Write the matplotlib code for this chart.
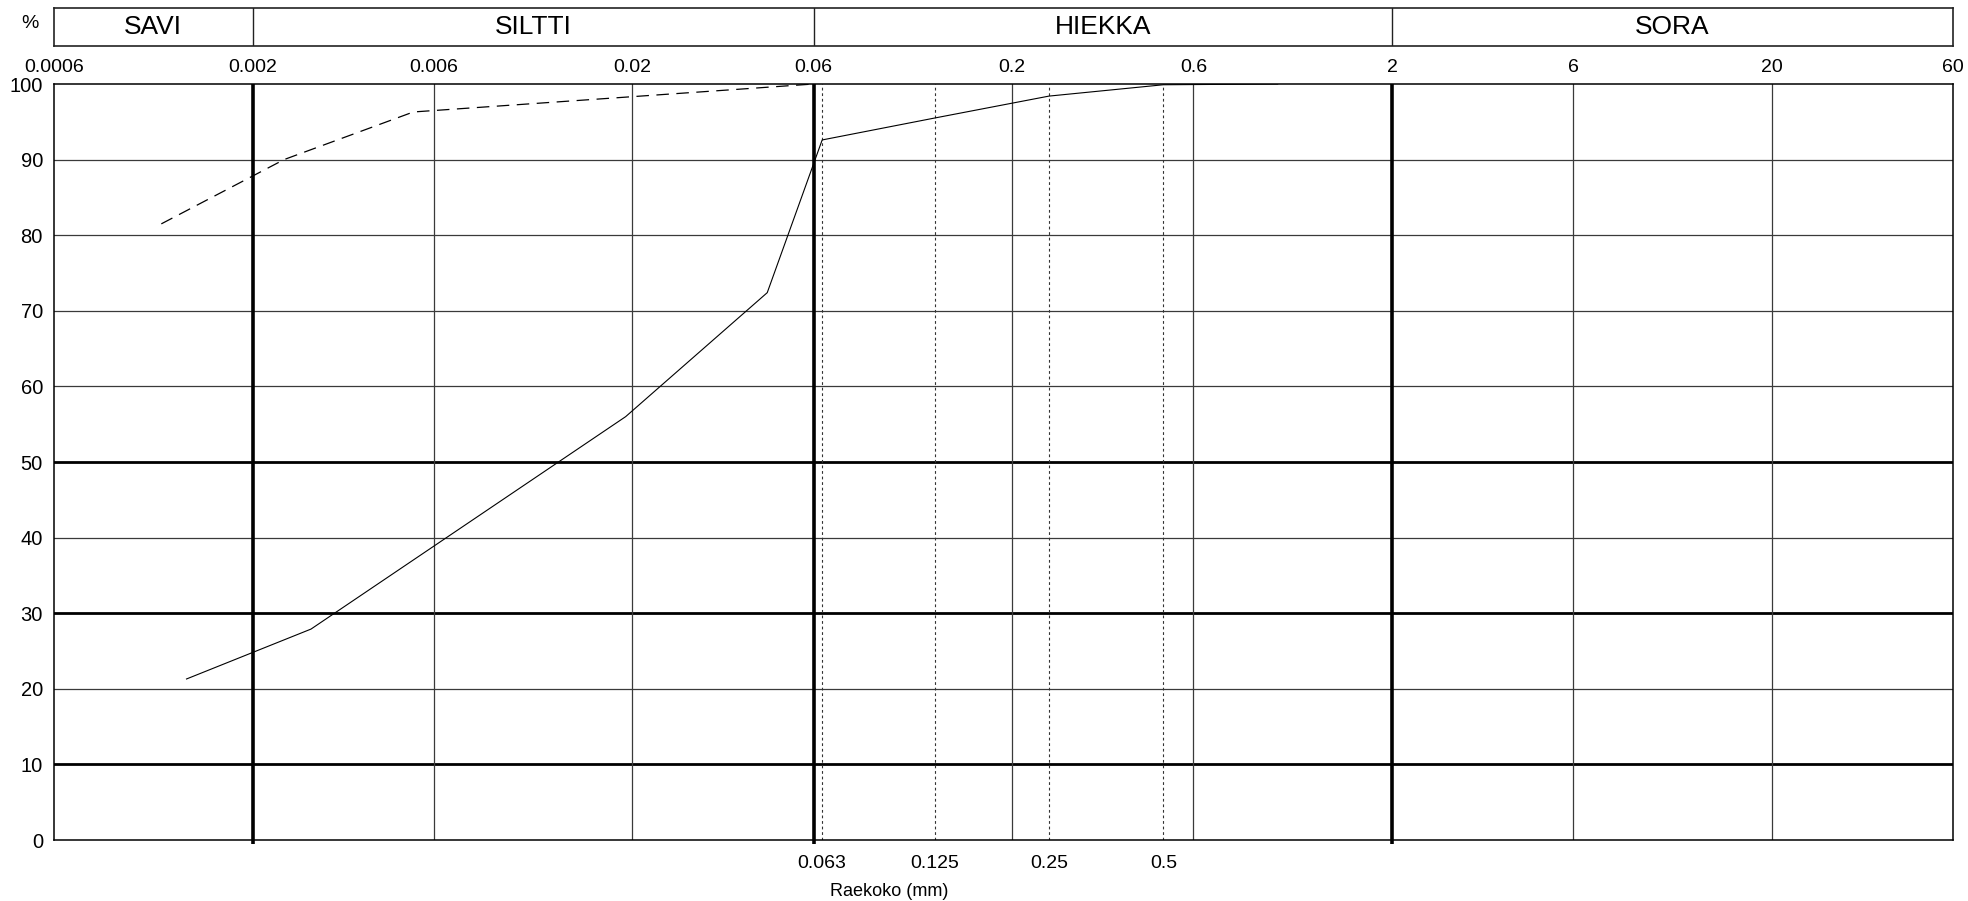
import matplotlib
matplotlib.use("Agg")
import matplotlib.pyplot as plt

plt.rcParams['font.family'] = ['Liberation Sans', 'DejaVu Sans']

# grain size axis (mm)
top_ticks = [0.0006, 0.002, 0.006, 0.02, 0.06, 0.2, 0.6, 2, 6, 20, 60]
top_labels = ["0.0006", "0.002", "0.006", "0.02", "0.06", "0.2", "0.6", "2", "6", "20", "60"]
sieve_ticks = [0.063, 0.125, 0.25, 0.5]
sieve_labels = ["0.063", "0.125", "0.25", "0.5"]
bold_x = [0.002, 0.06, 2]
thin_x = [0.006, 0.02, 0.2, 0.6, 6, 20]
y_ticks = list(range(0, 101, 10))
bold_y = [10, 30, 50]

# soil classes for the header row
classes = ["SAVI", "SILTTI", "HIEKKA", "SORA"]
class_edges = [0.0006, 0.002, 0.06, 2, 60]

# measured curves (grain size mm, passing %)
solid_x = [0.00134, 0.00285, 0.0192, 0.0453, 0.0632, 0.125, 0.25, 0.5, 1.0]
solid_y = [21.3, 27.9, 56.0, 72.4, 92.6, 95.5, 98.4, 99.9, 100]
dashed_x = [0.00115, 0.00242, 0.0053, 0.06]
dashed_y = [81.5, 90.0, 96.3, 100]

W, H = 1968, 901
fig = plt.figure(figsize=(W / 100, H / 100), dpi=100)
left, right, top, bottom = 54, 1953, 84, 840
ax = fig.add_axes([left / W, 1 - bottom / H, (right - left) / W, (bottom - top) / H])
hdr = fig.add_axes([left / W, 1 - 46 / H, (right - left) / W, 38 / H])

ax.set_xscale('log')
ax.set_xlim(top_ticks[0], top_ticks[-1])
ax.set_ylim(0, 100)

# grid
for y in y_ticks[1:-1]:
    if y in bold_y:
        ax.axhline(y, color='black', lw=2.0, zorder=1)
    else:
        ax.axhline(y, color='#3a3a3a', lw=0.9, zorder=1)
for x in thin_x:
    ax.axvline(x, color='#3a3a3a', lw=0.9, zorder=1)
for x in sieve_ticks:
    ax.axvline(x, color='#333333', lw=0.8, ls=(0, (2.5, 2.5)), zorder=1)
for x in bold_x:
    ax.plot([x, x], [-0.5, 100], color='black', lw=2.6, clip_on=False,
            solid_capstyle='butt', zorder=2)

ax.plot(solid_x, solid_y, color='black', lw=0.8, zorder=3)
ax.plot(dashed_x, dashed_y, color='black', lw=0.9, ls=(0, (10, 6)), zorder=3)

for s in ax.spines.values():
    s.set_linewidth(1.1)
    s.set_color('black')

ax.xaxis.tick_top()
ax.set_xticks(top_ticks)
ax.set_xticklabels(top_labels)
ax.xaxis.set_minor_locator(matplotlib.ticker.NullLocator())
ax.tick_params(axis='x', length=0, pad=6, labelsize=14)
ax.set_yticks(y_ticks)
ax.tick_params(axis='y', length=0, pad=8, labelsize=14.5)

sec = ax.secondary_xaxis('bottom')
sec.set_xticks(sieve_ticks)
sec.set_xticklabels(sieve_labels)
sec.xaxis.set_minor_locator(matplotlib.ticker.NullLocator())
sec.tick_params(length=0, pad=11, labelsize=14)
sec.spines['bottom'].set_visible(False)

fig.text(889 / W, 1 - 891 / H, "Raekoko (mm)", ha='center', va='center', fontsize=13)
fig.text(30 / W, 1 - 23 / H, "%", ha='center', va='center', fontsize=14)

# header row
hdr.set_xscale('log')
hdr.set_xlim(class_edges[0], class_edges[-1])
hdr.set_ylim(0, 1)
hdr.set_xticks([])
hdr.set_yticks([])
hdr.xaxis.set_minor_locator(matplotlib.ticker.NullLocator())
for s in hdr.spines.values():
    s.set_linewidth(1.2)
    s.set_color('#222222')
for x in class_edges[1:-1]:
    hdr.axvline(x, color='#222222', lw=1.0)
for i, name in enumerate(classes):
    xc = (class_edges[i] * class_edges[i + 1]) ** 0.5
    hdr.text(xc, 0.5, name, ha='center', va='center', fontsize=19)

fig.savefig("out.png", dpi=100)
